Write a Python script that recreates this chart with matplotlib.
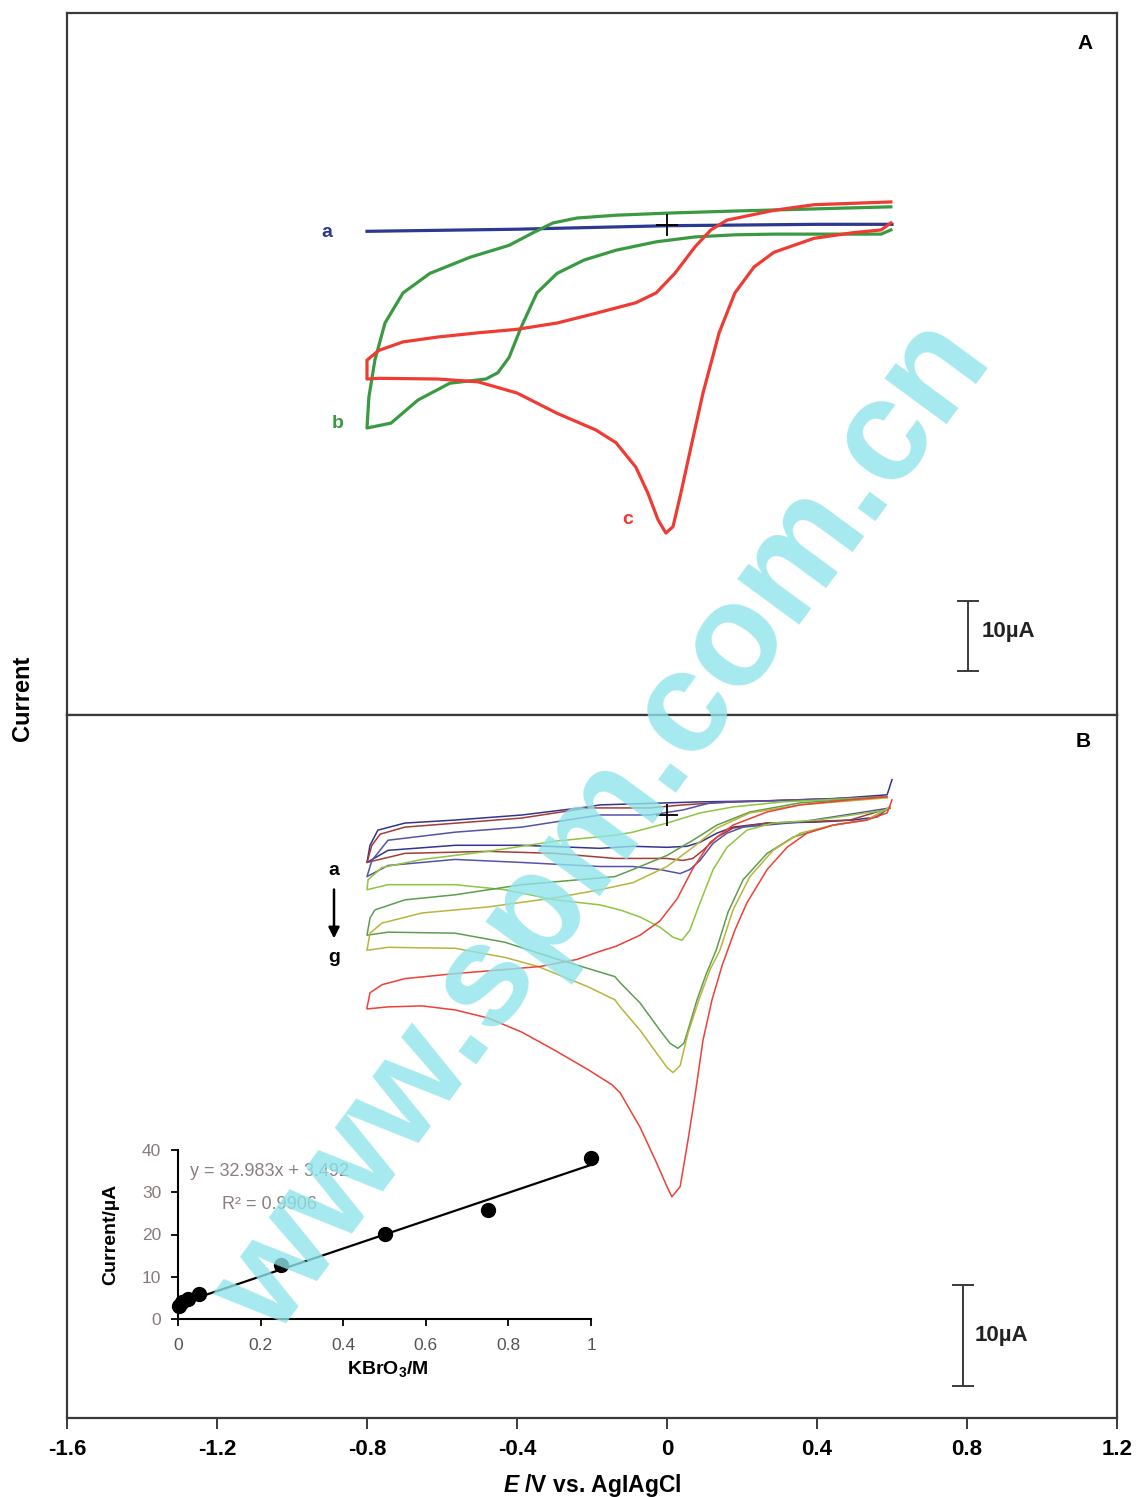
import matplotlib
matplotlib.use('Agg')
import matplotlib.pyplot as plt
import numpy as np

plt.rcParams['font.family'] = ['Liberation Sans', 'DejaVu Sans']
plt.rcParams['mathtext.fontset'] = 'custom'
plt.rcParams['mathtext.rm'] = 'Liberation Sans:bold'
plt.rcParams['mathtext.it'] = 'Liberation Sans:italic:bold'
plt.rcParams['mathtext.bf'] = 'Liberation Sans:bold'

# ---------------- Panel A data (E / V, I / uA) ----------------
A_a_E = [-0.80, -0.40, 0.00, 0.40, 0.60]
A_a_I = [-0.9, -0.6, -0.1, 0.1, 0.1]

A_b_low_E = [-0.800, -0.736, -0.664, -0.579, -0.483, -0.451, -0.421, -0.389, -0.347, -0.293,
             -0.221, -0.136, -0.029, 0.075, 0.181, 0.285, 0.392, 0.571, 0.597]
A_b_low_I = [-29.0, -28.3, -25.0, -22.6, -22.0, -21.1, -18.9, -14.6, -9.7, -6.9,
             -5.0, -3.6, -2.4, -1.7, -1.4, -1.3, -1.3, -1.3, -0.7]
A_b_up_E = [-0.800, -0.795, -0.779, -0.752, -0.704, -0.632, -0.525, -0.421, -0.357, -0.304,
            -0.240, -0.136, 0.0, 0.181, 0.392, 0.597]
A_b_up_I = [-29.0, -24.6, -19.3, -14.0, -9.7, -6.9, -4.6, -2.9, -1.1, 0.3,
            1.0, 1.4, 1.7, 2.0, 2.3, 2.6]

A_c_up_E = [-0.800, -0.768, -0.704, -0.611, -0.504, -0.400, -0.293, -0.189, -0.083, -0.029,
            0.021, 0.075, 0.117, 0.160, 0.285, 0.392, 0.597]
A_c_up_I = [-19.3, -17.9, -16.7, -16.0, -15.4, -14.9, -14.0, -12.6, -11.1, -9.7,
            -6.9, -3.1, -0.7, 0.7, 2.1, 2.9, 3.3]
A_c_low_E = [-0.800, -0.768, -0.611, -0.504, -0.400, -0.293, -0.189, -0.136, -0.083, -0.051,
             -0.024, -0.003, 0.016, 0.037, 0.064, 0.096, 0.139, 0.181, 0.232, 0.285,
             0.392, 0.496, 0.571, 0.597]
A_c_low_I = [-22.0, -21.9, -22.0, -22.4, -24.0, -26.9, -29.3, -31.1, -34.6, -38.3,
             -42.1, -44.0, -43.1, -38.3, -31.7, -24.0, -15.4, -9.7, -6.0, -3.9,
             -1.9, -1.1, -0.7, 0.3]

# ---------------- Panel B data ----------------
B_a_up_E = [-0.800, -0.792, -0.771, -0.699, -0.565, -0.387, -0.211, -0.179, 0.0, 0.088, 0.267, 0.443, 0.587, 0.600]
B_a_up_I = [-4.7, -3.0, -1.5, -0.8, -0.5, 0.0, 0.8, 1.0, 1.2, 1.3, 1.4, 1.6, 2.0, 3.5]
B_a_low_E = [-0.800, -0.744, -0.565, -0.387, -0.179, -0.091, 0.0, 0.053, 0.088, 0.133, 0.176, 0.267, 0.400, 0.496, 0.560, 0.595]
B_a_low_I = [-4.7, -3.5, -3.0, -3.0, -3.3, -3.1, -3.2, -3.1, -2.7, -1.8, -1.2, -0.8, -0.7, -0.5, -0.2, 0.8]

B_b_up_E = [-0.800, -0.787, -0.765, -0.699, -0.387, -0.211, -0.045, 0.043, 0.176, 0.587]
B_b_up_I = [-4.7, -3.0, -1.9, -1.2, -0.3, 0.7, 0.7, 1.0, 1.3, 1.8]
B_b_low_E = [-0.800, -0.699, -0.477, -0.299, -0.139, 0.0, 0.043, 0.069, 0.096, 0.133, 0.176, 0.267, 0.488, 0.595]
B_b_low_I = [-4.7, -3.8, -3.6, -3.8, -4.3, -4.3, -4.5, -4.3, -3.5, -2.2, -1.3, -0.8, -0.5, 0.7]

B_c_up_E = [-0.800, -0.787, -0.744, -0.565, -0.387, -0.179, -0.045, 0.043, 0.115, 0.355, 0.587]
B_c_up_I = [-6.1, -4.5, -2.5, -1.7, -1.2, 0.0, 0.0, 0.5, 1.2, 1.5, 1.8]
B_c_low_E = [-0.800, -0.744, -0.565, -0.387, -0.179, -0.091, -0.019, 0.035, 0.061, 0.088, 0.123, 0.160, 0.203, 0.355, 0.595]
B_c_low_I = [-6.1, -5.0, -4.4, -4.7, -5.1, -5.1, -5.4, -5.8, -5.4, -4.5, -2.8, -1.8, -1.2, -0.7, 0.7]

B_d_up_E = [-0.800, -0.797, -0.760, -0.653, -0.477, -0.299, -0.139, -0.091, 0.0, 0.088, 0.176, 0.309, 0.587]
B_d_up_I = [-7.4, -6.4, -5.2, -4.4, -3.6, -2.6, -2.0, -1.7, -0.8, 0.2, 0.8, 1.3, 1.8]
B_d_low_E = [-0.800, -0.744, -0.565, -0.432, -0.299, -0.179, -0.125, -0.072, -0.019, 0.016,
             0.040, 0.061, 0.088, 0.123, 0.160, 0.213, 0.283, 0.400, 0.587]
B_d_low_I = [-7.4, -6.9, -6.9, -7.4, -8.4, -8.9, -9.4, -10.1, -11.1, -12.1,
             -12.4, -11.4, -8.7, -5.4, -3.2, -1.5, -0.8, -0.5, 0.5]

B_e_up_E = [-0.800, -0.792, -0.779, -0.699, -0.565, -0.387, -0.139, -0.091, 0.0, 0.069, 0.133, 0.221, 0.355, 0.587]
B_e_up_I = [-11.9, -10.2, -9.4, -8.4, -7.9, -6.9, -6.1, -5.4, -4.0, -2.5, -1.0, 0.3, 1.2, 1.8]
B_e_low_E = [-0.800, -0.744, -0.565, -0.432, -0.299, -0.139, -0.125, -0.072, -0.019, 0.008,
             0.029, 0.045, 0.056, 0.080, 0.104, 0.131, 0.163, 0.203, 0.267, 0.336,
             0.443, 0.533, 0.595]
B_e_low_I = [-11.9, -11.6, -11.7, -12.6, -14.2, -16.0, -16.6, -18.6, -21.3, -22.6,
             -23.1, -22.6, -21.3, -18.3, -15.8, -13.4, -9.6, -6.4, -3.8, -2.2,
             -1.0, -0.5, 0.7]

B_f_up_E = [-0.800, -0.792, -0.760, -0.653, -0.477, -0.299, -0.179, -0.091, 0.0, 0.069, 0.133, 0.221, 0.355, 0.587]
B_f_up_I = [-13.4, -11.7, -10.7, -9.7, -9.1, -8.2, -7.4, -6.7, -5.1, -3.2, -1.3, 0.2, 1.0, 1.7]
B_f_low_E = [-0.800, -0.744, -0.565, -0.432, -0.344, -0.211, -0.139, -0.125, -0.072, -0.027,
             0.0, 0.016, 0.035, 0.056, 0.085, 0.115, 0.141, 0.176, 0.221, 0.283,
             0.355, 0.443, 0.533, 0.595]
B_f_low_I = [-13.4, -13.1, -13.2, -14.1, -15.0, -17.0, -18.3, -19.0, -21.3, -23.6,
             -25.0, -25.5, -24.8, -21.6, -18.3, -15.3, -13.4, -9.4, -6.1, -3.5,
             -1.8, -1.0, -0.5, 0.8]

B_g_up_E = [-0.800, -0.792, -0.760, -0.699, -0.565, -0.432, -0.339, -0.240, -0.179, -0.136,
            -0.072, -0.019, 0.027, 0.069, 0.115, 0.176, 0.267, 0.355, 0.488, 0.587]
B_g_up_I = [-19.1, -17.6, -16.8, -16.2, -15.7, -15.3, -15.0, -14.3, -13.5, -13.0,
            -11.9, -10.5, -8.3, -5.3, -2.7, -1.0, 0.3, 1.0, 1.5, 1.8]
B_g_low_E = [-0.800, -0.744, -0.653, -0.565, -0.477, -0.387, -0.299, -0.211, -0.147, -0.125,
             -0.072, -0.027, 0.0, 0.013, 0.035, 0.056, 0.075, 0.096, 0.120, 0.147,
             0.181, 0.213, 0.267, 0.320, 0.373, 0.443, 0.533, 0.587, 0.600]
B_g_low_I = [-19.2, -19.0, -18.9, -19.3, -20.1, -21.5, -23.3, -25.2, -26.7, -27.5,
             -30.9, -34.5, -36.8, -37.8, -36.8, -32.2, -27.7, -22.3, -18.3, -14.9,
             -11.4, -8.7, -5.4, -3.2, -1.8, -1.0, -0.5, 0.2, 1.5]

# ---------------- Inset data ----------------
kbro3_M = [0.0025, 0.01, 0.025, 0.05, 0.25, 0.5, 0.75, 1.0]
peak_uA = [3.0, 4.0, 4.8, 5.9, 12.7, 20.1, 25.8, 38.1]
fit_slope, fit_icpt = 32.983, 3.492

x_ticks = [-1.6, -1.2, -0.8, -0.4, 0.0, 0.4, 0.8, 1.2]
x_ticklabels = ['-1.6', '-1.2', '-0.8', '-0.4', '0', '0.4', '0.8', '1.2']
in_xticks = [0, 0.2, 0.4, 0.6, 0.8, 1.0]
in_xticklabels = ['0', '0.2', '0.4', '0.6', '0.8', '1']
in_yticks = [0, 10, 20, 30, 40]

# ---------------- Figure ----------------
W, H = 1144, 1497
fig = plt.figure(figsize=(W / 100, H / 100), dpi=100)


def rect(x0, y0, x1, y1):
    return [x0 / W, 1 - y1 / H, (x1 - x0) / W, (y1 - y0) / H]


axA = fig.add_axes(rect(67, 13, 1117, 715))
axB = fig.add_axes(rect(67, 715, 1117, 1418))
box_col = '#3a3a3a'
for ax in (axA, axB):
    ax.set_xlim(-1.6, 1.2)
    for s in ax.spines.values():
        s.set_color(box_col)
        s.set_linewidth(1.6)
    ax.set_yticks([])
axA.set_ylim(-70.0, 30.29)
axB.set_ylim(-59.7, 9.9)
axA.set_xticks([])
axB.set_xticks(x_ticks)
axB.set_xticklabels(x_ticklabels, fontsize=16, fontweight='bold')
axB.tick_params(axis='x', direction='out', length=8, width=1.4, pad=7, color=box_col)
axB.set_xlabel(r'$\mathit{E}$ /V vs. AgIAgCl', fontsize=16.5, fontweight='bold', labelpad=9)

fig.text(22 / W, 1 - 698 / H, 'Current', rotation=90, ha='center', va='center',
         fontsize=17, fontweight='bold')

# Panel A curves
lwA = 2.3
cA_blue, cA_green, cA_red = '#2B3990', '#3A9A42', '#EE3B33'
axA.plot(A_a_E, A_a_I, color=cA_blue, lw=lwA)
axA.plot(A_b_up_E[::-1] + A_b_low_E, A_b_up_I[::-1] + A_b_low_I, color=cA_green, lw=lwA)
axA.plot(A_c_up_E[::-1] + A_c_low_E, A_c_up_I[::-1] + A_c_low_I, color=cA_red, lw=lwA)
axA.plot([0], [0], marker='+', color='black', markersize=16, mew=1.3)
axA.text(-0.907, -1.0, 'a', color=cA_blue, fontsize=14, fontweight='bold', ha='center', va='center')
axA.text(-0.877, -28.4, 'b', color=cA_green, fontsize=14, fontweight='bold', ha='center', va='center')
axA.text(-0.104, -42.1, 'c', color=cA_red, fontsize=14, fontweight='bold', ha='center', va='center')
axA.text(0.9695, 0.956, 'A', transform=axA.transAxes, fontsize=15, fontweight='bold', ha='center', va='center')

# scale bar A
axA.plot([0.803, 0.803], [-53.7, -63.7], color=box_col, lw=1.4)
axA.plot([0.776, 0.830], [-53.7, -53.7], color=box_col, lw=1.4)
axA.plot([0.776, 0.830], [-63.7, -63.7], color=box_col, lw=1.4)
axA.text(0.84, -58.1, '10µA', fontsize=16, fontweight='bold', ha='left', va='center', color='#222222')

# Panel B curves
lwB = 1.1
B_curves = [
    (B_a_up_E, B_a_up_I, B_a_low_E, B_a_low_I, '#34348F'),
    (B_b_up_E, B_b_up_I, B_b_low_E, B_b_low_I, '#A33B36'),
    (B_c_up_E, B_c_up_I, B_c_low_E, B_c_low_I, '#5552A8'),
    (B_d_up_E, B_d_up_I, B_d_low_E, B_d_low_I, '#8DC63F'),
    (B_e_up_E, B_e_up_I, B_e_low_E, B_e_low_I, '#5D9E4E'),
    (B_f_up_E, B_f_up_I, B_f_low_E, B_f_low_I, '#B9B43C'),
    (B_g_up_E, B_g_up_I, B_g_low_E, B_g_low_I, '#EE4036'),
]
for ue, ui, le, li, col in B_curves:
    axB.plot(ue[::-1] + le, ui[::-1] + li, color=col, lw=lwB)
axB.plot([0], [0], marker='+', color='black', markersize=16, mew=1.3)
axB.text(-0.888, -5.5, 'a', fontsize=14, fontweight='bold', ha='center', va='center')
axB.text(-0.888, -14.1, 'g', fontsize=14, fontweight='bold', ha='center', va='center')
axB.annotate('', xy=(-0.888, -12.5), xytext=(-0.888, -7.1),
             arrowprops=dict(arrowstyle='-|>', color='black', lw=1.8, mutation_scale=16))
axB.text(0.9676, 0.963, 'B', transform=axB.transAxes, fontsize=15, fontweight='bold', ha='center', va='center')

# scale bar B
axB.plot([0.789, 0.789], [-46.5, -56.5], color=box_col, lw=1.4)
axB.plot([0.762, 0.816], [-46.5, -46.5], color=box_col, lw=1.4)
axB.plot([0.762, 0.816], [-56.5, -56.5], color=box_col, lw=1.4)
axB.text(0.819, -51.5, '10µA', fontsize=16, fontweight='bold', ha='left', va='center', color='#222222')

# Inset
axI = fig.add_axes(rect(178, 1150, 591, 1319))
axI.patch.set_alpha(0)
axI.set_xlim(0, 1.0)
axI.set_ylim(0, 40)
for side in ('top', 'right'):
    axI.spines[side].set_visible(False)
for side in ('left', 'bottom'):
    axI.spines[side].set_linewidth(1.5)
    axI.spines[side].set_color('black')
axI.set_xticks(in_xticks)
axI.set_xticklabels(in_xticklabels, fontsize=12.5, color='#555555')
axI.set_yticks(in_yticks)
axI.set_yticklabels([str(v) for v in in_yticks], fontsize=12.5, color='#877a7a')
axI.tick_params(axis='both', direction='out', length=5, width=1.3)
axI.tick_params(axis='x', pad=9)
axI.tick_params(axis='y', pad=7)
fx = np.array([0.0, 1.0])
axI.plot(fx, fit_slope * fx + fit_icpt, color='black', lw=1.6)
axI.plot(kbro3_M, peak_uA, 'o', color='black', markersize=10, clip_on=False)
axI.set_ylabel('Current/µA', fontsize=14, fontweight='bold')
axI.yaxis.set_label_coords(-0.143, 0.5)
axI.set_xlabel(r'KBrO$_\mathrm{3}$/M', fontsize=14, fontweight='bold')
axI.xaxis.set_label_coords(0.508, -0.237)
axI.text(0.029, 0.87, 'y = 32.983x + 3.492', transform=axI.transAxes, fontsize=13,
         color='#8a7f7f', ha='left', va='center')
axI.text(0.107, 0.675, 'R² = 0.9906', transform=axI.transAxes, fontsize=13,
         color='#8a7f7f', ha='left', va='center')

# Watermark
fig.text(635 / W, 1 - 850 / H, 'www.spm.com.cn', rotation=53.7, rotation_mode='anchor',
         ha='center', va='baseline', fontsize=104, fontweight='bold',
         color='#8FE4EA', alpha=0.8, zorder=10)

fig.savefig('out.png', dpi=100)
